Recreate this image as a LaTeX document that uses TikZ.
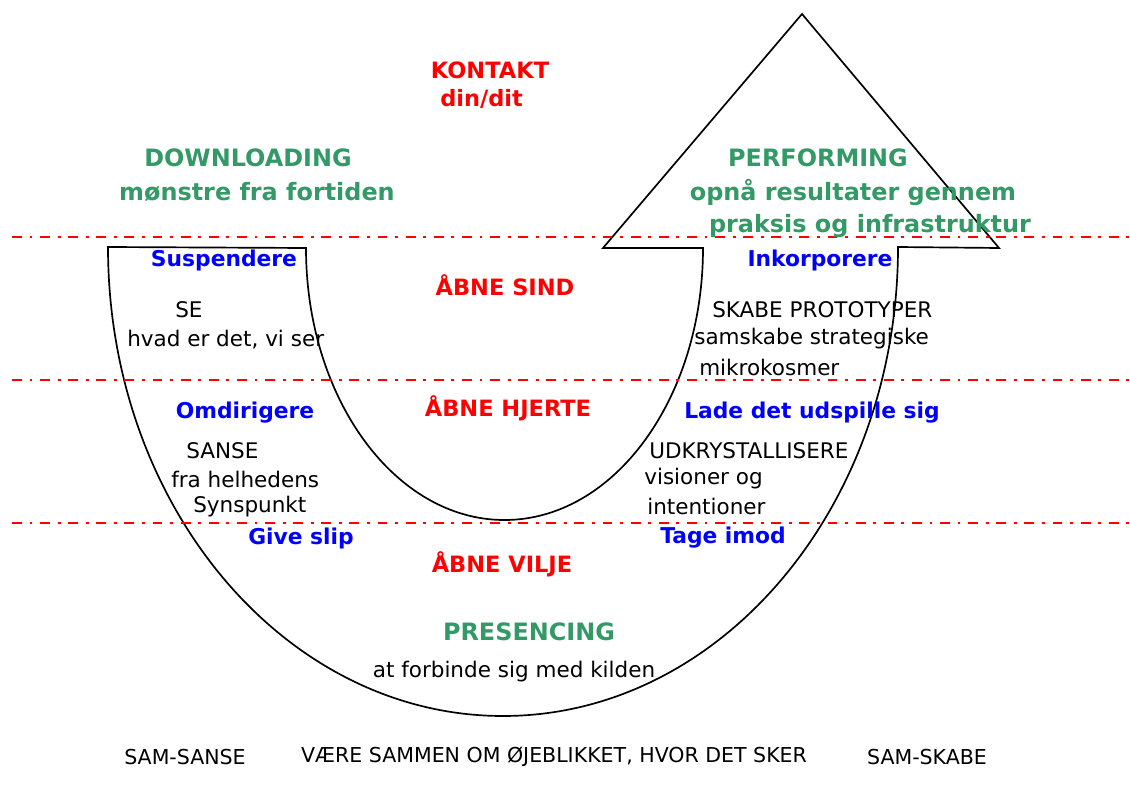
\documentclass[tikz,border=0pt]{standalone}
\usepackage{fontspec}
\setmainfont{DejaVu Sans}
\usepackage{xcolor}
\definecolor{grn}{RGB}{51,153,102}
\tikzset{
  lvl/.style={red, line width=1.7pt, dash pattern=on 7pt off 5.5pt on 2pt off 5.5pt},
  txt/.style={inner sep=0pt, font=\fontsize{15.3}{17}\selectfont},
  bund/.style={txt, font=\fontsize{14.6}{17}\selectfont},
  red lab/.style={txt, red, font=\fontsize{16}{18}\selectfont\bfseries},
  blue lab/.style={txt, blue, font=\fontsize{15.5}{17}\selectfont\bfseries},
  grn lab/.style={txt, grn, font=\fontsize{17}{19}\selectfont\bfseries}
}
\begin{document}
\begin{tikzpicture}[x=0.025cm,y=0.025cm]
\useasboundingbox (0,0) rectangle (1130,785);

% U med pil
\draw [line width=1.2pt] (108,538) arc[start angle=180,end angle=360,x radius=395,y radius=469]
  -- (999,537) -- (802,771) -- (603,537) -- (703,537)
  arc[start angle=0,end angle=-180,x radius=198.5,y radius=272] -- cycle;

% niveauer
\draw [lvl] (12,548) -- (1130,548);
\draw [lvl] (12,405) -- (1130,405);
\draw [lvl] (12,262) -- (1130,262);

\node[red lab] (kontakt) at (490,715) {KONTAKT};
\node[red lab, anchor=west] (din) at (440,686) {din/dit};

\node[grn lab] (down) at (248,627) {DOWNLOADING};
\node[grn lab] (down2) at (257,593) {mønstre fra fortiden};
\node[grn lab] (perf) at (818,627) {PERFORMING};
\node[grn lab] (perf2) at (853,593) {opnå resultater gennem};
\node[grn lab] (perf3) at (870,559) {praksis og infrastruktur};

\node[blue lab] (susp) at (224,525) {Suspendere};
\node[red lab] (sind) at (505,500) {ÅBNE SIND};
\node[txt, anchor=west] (se) at (175,475) {SE};
\node[txt, anchor=west] (se2) at (127,445) {hvad er det, vi ser};
\node[blue lab] (inkorp) at (820,525) {Inkorporere};
\node[txt, anchor=west] (skabe) at (712,475) {SKABE PROTOTYPER};
\node[txt, anchor=west] (skabe2) at (694,446) {samskabe strategiske};
\node[txt, anchor=west] (skabe3) at (699,418) {mikrokosmer};

\node[blue lab] (omdir) at (245,372) {Omdirigere};
\node[red lab] (hjerte) at (508,377) {ÅBNE HJERTE};
\node[blue lab] (lade) at (812,372) {Lade det udspille sig};
\node[txt, anchor=west] (sanse) at (186,334) {SANSE};
\node[txt, anchor=west] (sanse2) at (171,306) {fra helhedens};
\node[txt, anchor=west] (sanse3) at (193,278) {Synspunkt};
\node[txt, anchor=west] (udkr) at (649,334) {UDKRYSTALLISERE};
\node[txt, anchor=west] (udkr2) at (644,306) {visioner og};
\node[txt, anchor=west] (udkr3) at (647,279) {intentioner};

\node[blue lab] (give) at (301,247) {Give slip};
\node[blue lab] (tage) at (723,247) {Tage imod};
\node[red lab] (vilje) at (502,221) {ÅBNE VILJE};
\node[grn lab] (pres) at (529,153) {PRESENCING};
\node[txt] (kilde) at (514,113) {at forbinde sig med kilden};

\node[bund] (samsanse) at (185,28) {SAM-SANSE};
\node[bund] (vaere) at (554,28) {VÆRE SAMMEN OM ØJEBLIKKET, HVOR DET SKER};
\node[bund] (samskabe) at (927,28) {SAM-SKABE};
\end{tikzpicture}
\end{document}
